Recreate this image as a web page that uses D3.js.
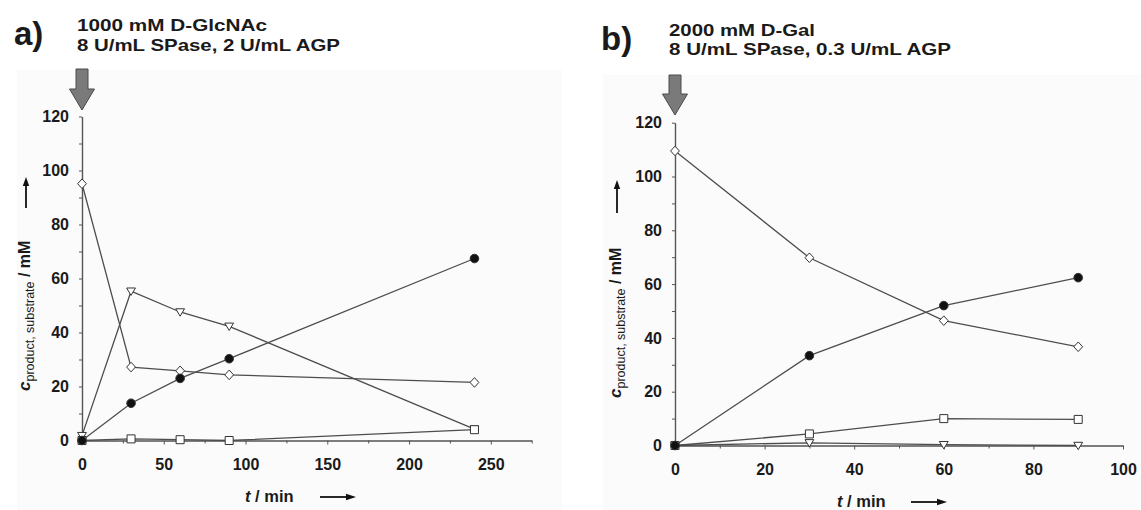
<!DOCTYPE html>
<html>
<head>
<meta charset="utf-8">
<script src="https://cdn.jsdelivr.net/npm/d3@7/dist/d3.min.js"></script>
<style>
    body { margin: 0; background: #ffffff; }
    text { font-family: "Liberation Sans", Arial, sans-serif; fill: #1a1a1a; }
</style>
</head>
<body>
<svg id="chart"></svg>
<script>
//DATA (concentrations in mM)

// panel a: 1000 mM D-GlcNAc
const timeA = [0, 30, 60, 90, 240];
const circlesA = [0, 13.8, 23.0, 30.3, 67.4];
const diamondsA = [95.1, 27.2, 25.8, 24.3, 21.5];
const trianglesA = [1.8, 55.3, 47.6, 42.3, 4.2];
const squaresA = [0, 0.6, 0.3, 0, 4.0];

// panel b: 2000 mM D-Gal
const timeB = [0, 30, 60, 90];
const circlesB = [0, 33.4, 52.0, 62.4];
const diamondsB = [109.5, 69.8, 46.4, 36.7];
const squaresB = [0, 4.3, 10.0, 9.7];
const trianglesB = [0, 1.0, 0.3, 0];

// tick labels
const yTicks = [0, 20, 40, 60, 80, 100, 120];
const yMinor = [10, 30, 50, 70, 90, 110];
const xTicksA = [0, 50, 100, 150, 200, 250];
const xMinorA = [25, 75, 125, 175, 225, 275];
const xTicksB = [0, 20, 40, 60, 80, 100];
const xMinorB = [10, 30, 50, 70, 90];

const titlesA = ['1000 mM D-GlcNAc', '8 U/mL SPase, 2 U/mL AGP'];
const titlesB = ['2000 mM D-Gal', '8 U/mL SPase, 0.3 U/mL AGP'];

//SVG
const width = 1141;
const height = 510;
const svg = d3.select('#chart').attr('width', width).attr('height', height);

//marker shapes, centred on 0,0
const shapes = {
    circle: 'M4.3,0A4.3,4.3,0,1,1,-4.3,0A4.3,4.3,0,1,1,4.3,0Z',
    diamond: 'M0,-4.8L4.4,0L0,4.8L-4.4,0Z',
    square: 'M-4,-4H4V4H-4Z',
    triangle: 'M-4.4,-3.2H4.4L0,4.2Z'
};

function buildPanel(cfg) {
    //faint background tint of the scanned figure
    svg.append('rect')
        .attr('x', cfg.bg[0]).attr('y', cfg.bg[1])
        .attr('width', cfg.bg[2]).attr('height', cfg.bg[3])
        .attr('fill', '#fbfbfb');

    const x = d3.scaleLinear().domain(cfg.xDomain).range(cfg.xRange);
    const y = d3.scaleLinear().domain([0, 120]).range(cfg.yRange);

    const g = svg.append('g');

    //minor ticks first, then the labelled ones
    g.append('g')
        .attr('transform', `translate(0,${y(0)})`)
        .call(d3.axisBottom(x).tickValues(cfg.xMinor).tickSize(3).tickSizeOuter(0).tickFormat(''));
    g.append('g')
        .attr('transform', `translate(0,${y(0)})`)
        .call(d3.axisBottom(x).tickValues(cfg.xTicks).tickSize(4).tickSizeOuter(0).tickPadding(14));
    g.append('g')
        .attr('transform', `translate(${x(0)},0)`)
        .call(d3.axisLeft(y).tickValues(yMinor).tickSize(3).tickSizeOuter(0).tickFormat(''));
    g.append('g')
        .attr('transform', `translate(${x(0)},0)`)
        .call(d3.axisLeft(y).tickValues(yTicks).tickSize(3).tickSizeOuter(0).tickPadding(10));

    g.selectAll('.domain').attr('stroke', '#555').attr('stroke-width', 1.2);
    g.selectAll('.tick line').attr('stroke', '#555');
    g.selectAll('.tick text')
        .attr('fill', '#1a1a1a')
        .style('font-size', '16px')
        .style('font-weight', 'bold')
        .style('font-family', '"Liberation Sans", Arial, sans-serif');

    //lines
    const line = d3.line().x(d => x(d[0])).y(d => y(d[1]));
    cfg.series.forEach(s => {
        g.append('path')
            .datum(cfg.time.map((t, i) => [t, s.values[i]]))
            .attr('d', line)
            .attr('fill', 'none')
            .attr('stroke', '#4d4d4d')
            .attr('stroke-width', 1.3);
    });

    //markers drawn on top of every line
    cfg.series.forEach(s => {
        g.selectAll(null)
            .data(cfg.time.map((t, i) => [t, s.values[i]]))
            .enter()
            .append('path')
            .attr('d', shapes[s.shape])
            .attr('transform', d => `translate(${x(d[0])},${y(d[1])})`)
            .attr('fill', s.shape === 'circle' ? '#111' : '#fff')
            .attr('stroke', '#333')
            .attr('stroke-width', 1);
    });

    //big grey arrow pointing at t = 0
    const ax = x(0);
    const at = cfg.arrowTop;
    const tip = cfg.arrowTip;
    const mid = tip - 21;
    svg.append('path')
        .attr('d', `M${ax - 6},${at}H${ax + 6}V${mid}H${ax + 12.5}L${ax},${tip}L${ax - 12.5},${mid}H${ax - 6}Z`)
        .attr('fill', '#7a7a7a')
        .attr('stroke', '#4a4a4a')
        .attr('stroke-width', 1);

    //panel letter
    svg.append('text')
        .attr('x', cfg.letterX).attr('y', cfg.letterY)
        .style('font-size', '33px').style('font-weight', 'bold')
        .text(cfg.letter);

    //conditions, two lines; the original face is wider than Liberation Sans, so stretch it
    cfg.titles.forEach((txt, i) => {
        svg.append('text')
            .attr('x', cfg.titleX).attr('y', cfg.titleY + i * 19.6)
            .attr('textLength', cfg.titleWidths[i])
            .attr('lengthAdjust', 'spacingAndGlyphs')
            .style('font-size', '17.3px').style('font-weight', 'bold')
            .text(txt);
    });

    //y axis title, rotated
    const yl = svg.append('text')
        .attr('transform', `translate(${cfg.yLabelX},${cfg.yLabelY}) rotate(-90)`);
    yl.append('tspan').style('font-size', '17px').style('font-style', 'italic').style('font-weight', 'bold').text('c');
    yl.append('tspan').attr('dy', 4).style('font-size', '12.5px').text('product, substrate');
    yl.append('tspan').attr('dy', -4).style('font-size', '16px').style('font-weight', 'bold').text(' / mM');

    //small arrow above the y title
    const yaX = cfg.yLabelX - 4;
    svg.append('line')
        .attr('x1', yaX).attr('x2', yaX)
        .attr('y1', cfg.yArrow[0]).attr('y2', cfg.yArrow[1] + 7)
        .attr('stroke', '#111').attr('stroke-width', 1.8);
    svg.append('path')
        .attr('d', `M${yaX},${cfg.yArrow[1]}L${yaX + 3.2},${cfg.yArrow[1] + 9}L${yaX - 3.2},${cfg.yArrow[1] + 9}Z`)
        .attr('fill', '#111');

    //x axis title with arrow
    const xl = svg.append('text')
        .attr('x', cfg.xLabelX).attr('y', cfg.xLabelY)
        .style('font-size', '16.5px').style('font-weight', 'bold');
    xl.append('tspan').style('font-style', 'italic').text('t');
    xl.append('tspan').text(' / min');
    const xa = cfg.xArrow;
    svg.append('line')
        .attr('x1', xa[0]).attr('x2', xa[1] - 8)
        .attr('y1', xa[2]).attr('y2', xa[2])
        .attr('stroke', '#111').attr('stroke-width', 1.8);
    svg.append('path')
        .attr('d', `M${xa[1]},${xa[2]}L${xa[1] - 10},${xa[2] - 3.2}L${xa[1] - 10},${xa[2] + 3.2}Z`)
        .attr('fill', '#111');
}

//panel a
buildPanel({
    time: timeA,
    series: [
        { values: trianglesA, shape: 'triangle' },
        { values: diamondsA, shape: 'diamond' },
        { values: squaresA, shape: 'square' },
        { values: circlesA, shape: 'circle' }
    ],
    xDomain: [0, 275], xRange: [82, 531.7], yRange: [440.5, 116.5],
    xTicks: xTicksA, xMinor: xMinorA,
    bg: [17, 70, 545, 440],
    arrowTop: 69, arrowTip: 110,
    letter: 'a)', letterX: 14, letterY: 45,
    titles: titlesA, titleX: 77, titleY: 31.2, titleWidths: [190, 263],
    yLabelX: 30, yLabelY: 391, yArrow: [208, 177],
    xLabelX: 245, xLabelY: 502, xArrow: [320, 356, 497]
});

//panel b
buildPanel({
    time: timeB,
    series: [
        { values: trianglesB, shape: 'triangle' },
        { values: diamondsB, shape: 'diamond' },
        { values: squaresB, shape: 'square' },
        { values: circlesB, shape: 'circle' }
    ],
    xDomain: [0, 100], xRange: [675, 1123], yRange: [445.5, 122.7],
    xTicks: xTicksB, xMinor: xMinorB,
    bg: [603, 75, 538, 435],
    arrowTop: 75, arrowTip: 115,
    letter: 'b)', letterX: 601, letterY: 50,
    titles: titlesB, titleX: 669, titleY: 35.5, titleWidths: [146, 282],
    yLabelX: 621, yLabelY: 398, yArrow: [213, 180],
    xLabelX: 837, xLabelY: 507, xArrow: [911, 947, 502]
});
</script>
</body>
</html>
